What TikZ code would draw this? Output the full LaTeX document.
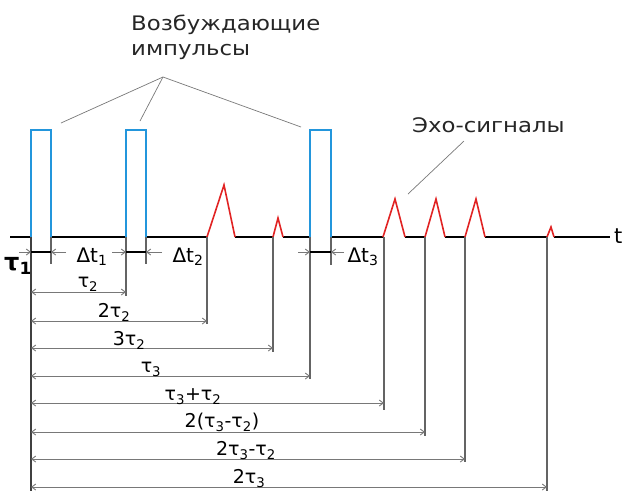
\documentclass[tikz,border=0pt]{standalone}
\usepackage{fontspec}
\setmainfont{DejaVu Sans}
\newfontfamily\capfont[FakeStretch=1.14]{DejaVu Sans}
\usetikzlibrary{arrows.meta}
\definecolor{pulseblue}{RGB}{35,150,220}
\definecolor{echored}{RGB}{225,35,35}
\definecolor{dimgray}{RGB}{120,120,120}
\definecolor{extgray}{RGB}{100,100,100}

\begin{document}
\begin{tikzpicture}[x=1pt,y=-1pt,
  pulse/.style={draw=pulseblue, line width=2.6pt, line join=miter},
  echo/.style={draw=echored, line width=1.6pt, line join=miter},
  baseline/.style={draw=black, line width=2pt},
  ext/.style={draw=extgray, line width=1.4pt},
  dimline/.style={draw=dimgray, line width=0.9pt,
    {Straight Barb[length=4pt,width=6pt]}-{Straight Barb[length=4pt,width=6pt]}},
  halfdim/.style={draw=dimgray, line width=0.9pt, -{Straight Barb[length=4pt,width=6pt]}},
  widthbar/.style={draw=black, line width=1.2pt},
  leader/.style={draw=dimgray, line width=0.7pt},
  caption/.style={font=\capfont\fontsize{20}{25}\selectfont, text=black!85, align=left, inner sep=0pt},
  dimlabel/.style={font=\fontsize{19}{19}\selectfont, inner sep=0.5pt, anchor=south},
  gaplabel/.style={font=\fontsize{20}{20}\selectfont, inner sep=1pt}
]
\useasboundingbox (0,0) rectangle (624,491);

% time axis, interrupted under the pulses and echoes
\draw[baseline] (10,237) -- (31,237);
\draw[baseline] (51,237) -- (126,237);
\draw[baseline] (146,237) -- (207,237);
\draw[baseline] (235,237) -- (273,237);
\draw[baseline] (283,237) -- (310,237);
\draw[baseline] (331,237) -- (383,237);
\draw[baseline] (405,237) -- (425,237);
\draw[baseline] (445,237) -- (465,237);
\draw[baseline] (485,237) -- (547,237);
\draw[baseline] (554,237) -- (610,237);
\node[font=\fontsize{21}{21}\selectfont, anchor=west, inner sep=0pt] (t) at (614,236) {t};

% exciting pulses
\draw[pulse] (31,237) -- (31,130) -- (51,130) -- (51,237);
\draw[pulse] (126,237) -- (126,130) -- (146,130) -- (146,237);
\draw[pulse] (310,237) -- (310,130) -- (331,130) -- (331,237);

% echo signals
\draw[echo] (207,237) -- (224,185) -- (235,237);
\draw[echo] (273,237) -- (278,218) -- (283,237);
\draw[echo] (383,237) -- (395,199) -- (405,237);
\draw[echo] (425,237) -- (436,199) -- (445,237);
\draw[echo] (465,237) -- (476,199) -- (485,237);
\draw[echo] (547,237) -- (551,227) -- (554,237);

% extension lines
\draw[ext, draw=black!75] (31,237) -- (31,491);
\draw[ext] (51,237) -- (51,264);
\draw[ext] (126,237) -- (126,296);
\draw[ext] (146,237) -- (146,264);
\draw[ext] (207,237) -- (207,324);
\draw[ext] (273,237) -- (273,352);
\draw[ext] (310,237) -- (310,379);
\draw[ext] (331,237) -- (331,265);
\draw[ext] (384,237) -- (384,410);
\draw[ext] (425,237) -- (425,436);
\draw[ext] (465,237) -- (465,462);
\draw[ext] (547,237) -- (547,491);

% pulse widths and gaps
\draw[widthbar] (31,252) -- (51,252);
\draw[widthbar] (126,252) -- (146,252);
\draw[widthbar] (310,252) -- (331,252);
\draw[halfdim] (19,252) -- (31,252);
\draw[halfdim] (66,252) -- (51,252);
\draw[halfdim] (112,252) -- (126,252);
\draw[halfdim] (162,252) -- (146,252);
\draw[halfdim] (298,252) -- (310,252);
\draw[halfdim] (344,252) -- (331,252);
\node[font=\bfseries\fontsize{24}{24}\selectfont, inner sep=0pt] (tau1) at (18,266) {τ\textsubscript{1}};
\node[gaplabel] (dt1) at (92,257) {Δt\textsubscript{1}};
\node[gaplabel] (dt2) at (188,257) {Δt\textsubscript{2}};
\node[gaplabel] (dt3) at (363,257) {Δt\textsubscript{3}};

% delay dimensions
\draw[dimline] (31,292) -- (126,292);
\node[dimlabel] (d1) at (88,292) {τ\textsubscript{2}};
\draw[dimline] (31,321) -- (207,321);
\node[dimlabel] (d2) at (114,322) {2τ\textsubscript{2}};
\draw[dimline] (31,348) -- (273,348);
\node[dimlabel] (d3) at (129,350) {3τ\textsubscript{2}};
\draw[dimline] (31,376) -- (310,376);
\node[dimlabel] (d4) at (151,377) {τ\textsubscript{3}};
\draw[dimline] (31,403) -- (384,403);
\node[dimlabel] (d5) at (193,405) {τ\textsubscript{3}+τ\textsubscript{2}};
\draw[dimline] (31,432) -- (425,432);
\node[dimlabel] (d6) at (222,432) {2(τ\textsubscript{3}-τ\textsubscript{2})};
\draw[dimline] (31,459) -- (465,459);
\node[dimlabel] (d7) at (246,460) {2τ\textsubscript{3}-τ\textsubscript{2}};
\draw[dimline] (31,487) -- (547,487);
\node[dimlabel] (d8) at (249,488) {2τ\textsubscript{3}};

% captions and their leaders
\node[caption, anchor=north west] (exc) at (131,15) {Возбуждающие\\импульсы};
\coordinate (excpt) at (163,77);
\draw[leader] (excpt) -- (61,123);
\draw[leader] (excpt) -- (140,121);
\draw[leader] (excpt) -- (301,127);
\node[caption, anchor=north west] (echolab) at (412,117) {Эхо-сигналы};
\coordinate (echopt) at (464,141);
\draw[leader] (echopt) -- (408,194);
\end{tikzpicture}
\end{document}
